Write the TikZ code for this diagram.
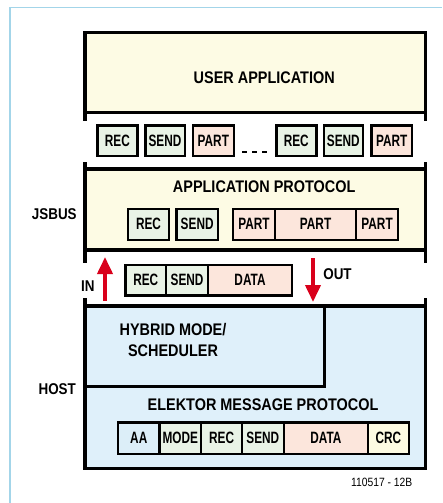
\documentclass[tikz,border=0pt]{standalone}
\usepackage{fontspec}
\setmainfont{Liberation Sans}[FakeStretch=0.86]
\newfontfamily\narrowfont{Liberation Sans}[FakeStretch=0.72]
\usetikzlibrary{arrows.meta}
\definecolor{appyellow}{HTML}{FDFBE4}
\definecolor{hostblue}{HTML}{DFF0FA}
\definecolor{boxgreen}{HTML}{E9F3E6}
\definecolor{boxpink}{HTML}{FCE6DC}
\definecolor{boxblue}{HTML}{DCEEF8}
\definecolor{boxyellow}{HTML}{FDFBE2}
\definecolor{arrowred}{HTML}{D9001B}
\definecolor{frameblue}{HTML}{A3D5E9}
\newcommand\headfont{\fontsize{16.8}{21}\selectfont\bfseries}
\newcommand\sidefont{\fontsize{15.6}{18}\selectfont\bfseries}
\newcommand\cellfont{\narrowfont\fontsize{16.4}{18}\selectfont\bfseries}
% \cell{name}{x1}{x2}{y1}{y2}{style}{text}
\newcommand\cell[7]{\node[#6, minimum width={(#3-#2)*1pt}, minimum height={(#5-#4)*1pt}] (#1) at ({(#2+#3)/2},{(#4+#5)/2}) {#7};}
\begin{document}
\begin{tikzpicture}[x=1pt,y=-1pt,
  bigbox/.style={draw=black, line width=3.2pt, inner sep=0pt, outer sep=0pt},
  smallbox/.style={draw=black, line width=2.4pt, inner sep=0pt, outer sep=0pt, font=\cellfont},
  green/.style={smallbox, fill=boxgreen},
  pink/.style={smallbox, fill=boxpink},
  bluec/.style={smallbox, fill=boxblue},
  yellowc/.style={smallbox, fill=boxyellow},
  heading/.style={inner sep=0pt, font=\headfont},
  sidelabel/.style={inner sep=0pt, font=\sidefont},
  tick/.style={line width=3.2pt},
  redarrow/.style={draw=arrowred, line width=3.8pt, -{Triangle[length=17pt,width=15pt]}}]
\useasboundingbox (0,0) rectangle (442,503);
\fill[white] (0,0) rectangle (442,503);
% frame
\coordinate (fbl) at (10,503);
\coordinate (ftl) at (10,7.5);
\coordinate (ftr) at (442,7.5);
\draw[frameblue, line width=1.8pt] (fbl) -- (ftl) -- (ftr);
% main boxes
\cell{ua}{85}{425.5}{32.3}{112.7}{bigbox, fill=appyellow}{}
\cell{ap}{85}{425.5}{169}{250}{bigbox, fill=appyellow}{}
\cell{host}{85}{425.5}{306}{468.7}{bigbox, fill=hostblue}{}
\cell{hyb}{85}{324.3}{306}{386.7}{bigbox}{}
% ticks
\draw[tick] (ua.south west) -- ++(0,8.3);
\draw[tick] (ua.south east) -- ++(0,8.3);
\draw[tick] (ap.north west) -- ++(0,-7.5);
\draw[tick] (ap.north east) -- ++(0,-7.5);
\draw[tick] (ap.south west) -- ++(0,13);
\draw[tick] (ap.south east) -- ++(0,13);
\draw[tick] (host.north west) -- ++(0,-8);
\draw[tick] (host.north east) -- ++(0,-8);
% headings
\node[heading] (uatext) at (264.2,78) {USER APPLICATION};
\node[heading] (aptext) at (264.2,186.7) {APPLICATION PROTOCOL};
\node[heading] (hyb1) at (173,330) {HYBRID MODE/};
\node[heading] (hyb2) at (173,351) {SCHEDULER};
\node[heading] (emp) at (263,404.7) {ELEKTOR MESSAGE PROTOCOL};
% side labels
\node[sidelabel] (jsbus) at (54.3,213.8) {JSBUS};
\node[sidelabel] (hostl) at (57.2,389.2) {HOST};
\node[sidelabel] (inl) at (87.8,286) {IN};
\node[sidelabel] (outl) at (337.5,273.8) {OUT};
% top row
\cell{r1}{97.3}{137.5}{125.3}{155.7}{green}{REC}
\cell{s1}{145.3}{184.7}{125.3}{155.7}{green}{SEND}
\cell{p1}{193}{233.7}{125.3}{155.7}{pink}{PART}
\cell{r2}{276.3}{316.3}{125.3}{155.7}{green}{REC}
\cell{s2}{323.7}{363}{125.3}{155.7}{green}{SEND}
\cell{p2}{371.3}{412}{125.3}{155.7}{pink}{PART}
\coordinate (dl) at (242,151.5);
\coordinate (dr) at (267,151.5);
\draw[line width=2pt, dash pattern=on 5pt off 5pt] (dl) -- (dr);
% application protocol row
\cell{r3}{128}{169}{209}{239.7}{green}{REC}
\cell{s3}{176.3}{218}{209}{239.7}{green}{SEND}
\cell{p3}{233}{275}{209}{239.7}{pink}{PART}
\cell{p4}{275}{356.2}{209}{239.7}{pink}{PART}
\cell{p5}{356.2}{398}{209}{239.7}{pink}{PART}
% middle row
\cell{r4}{125.3}{166.2}{264.7}{295.3}{green}{REC}
\cell{s4}{166.2}{208}{264.7}{295.3}{green}{SEND}
\cell{d4}{208}{292}{264.7}{295.3}{pink}{DATA}
% arrows
\coordinate (inS) at (105,301);
\coordinate (inE) at (105,257);
\coordinate (outS) at (313,258);
\coordinate (outE) at (313,302);
\draw[redarrow] (inS) -- (inE);
\draw[redarrow] (outS) -- (outE);
% bottom row
\cell{aa}{118}{159.5}{422.3}{454}{bluec}{AA}
\cell{mo}{159.5}{201.2}{422.3}{454}{green}{MODE}
\cell{r5}{201.2}{242}{422.3}{454}{green}{REC}
\cell{s5}{242}{283.7}{422.3}{454}{green}{SEND}
\cell{d5}{283.7}{368}{422.3}{454}{pink}{DATA}
\cell{crc}{368}{408.7}{422.3}{454}{yellowc}{CRC}
% caption
\node[inner sep=0pt, font=\fontsize{12}{14}\selectfont] (cap) at (381.7,482) {110517 - 12B};
\end{tikzpicture}
\end{document}
